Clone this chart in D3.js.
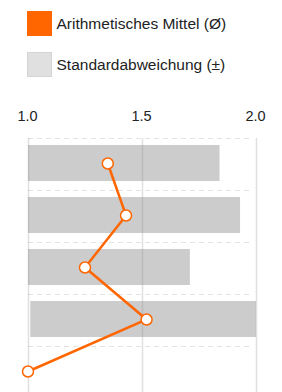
<!DOCTYPE html>
<html>
<head>
<meta charset="utf-8">
<script src="https://cdn.jsdelivr.net/npm/d3@7"></script>
<style>
  body { margin: 0; background: #fff; }
  svg { font-family: "Liberation Sans", Arial, sans-serif; }
</style>
</head>
<body>
<svg id="chart" width="282" height="392"></svg>
<script>
// rows of the survey (mean and standard deviation per item)
const items = ["A", "B", "C", "D", "E"];
const means = [1.35, 1.43, 1.25, 1.52, 1.0];
const stdDevs = [0.49, 0.50, 0.46, 0.51, 0];
const ticks = [1.0, 1.5, 2.0];

const orange = "#ff6600";
const svg = d3.select("#chart");

// legend
const legend = [
    { label: "Arithmetisches Mittel (Ø)", fill: orange, stroke: orange },
    { label: "Standardabweichung (±)", fill: "#e0e0e0", stroke: "#d4d4d4" }
];
const lg = svg.append("g")
    .selectAll("g")
    .data(legend)
    .enter()
    .append("g")
    .attr("transform", (d, i) => `translate(27.5,${11.5 + i * 41})`);
lg.append("rect")
    .attr("width", 24)
    .attr("height", 24)
    .attr("fill", (d) => d.fill)
    .attr("stroke", (d) => d.stroke);
lg.append("text")
    .attr("x", 29)
    .attr("y", 17.3)
    .attr("font-size", 15.5)
    .attr("fill", "#222")
    .text((d) => d.label);

const plotTop = 138;
const rowH = 52;
const x = d3.scaleLinear().domain([1, 2]).range([28, 256]);
const y = d3.scaleBand().domain(items).range([plotTop, plotTop + rowH * items.length]);

// tick labels
svg.append("g")
    .selectAll("text")
    .data(ticks)
    .enter()
    .append("text")
    .attr("x", (d) => x(d) - 0.5)
    .attr("y", 121)
    .attr("text-anchor", "middle")
    .attr("font-size", 14.5)
    .attr("fill", "#222")
    .text((d) => d3.format(".1f")(d));

// horizontal dashed separators
svg.append("g")
    .selectAll("line")
    .data(items)
    .enter()
    .append("line")
    .attr("x1", 28)
    .attr("x2", 252)
    .attr("y1", (d) => y(d) + 0.5)
    .attr("y2", (d) => y(d) + 0.5)
    .attr("stroke", "#e2e2e2")
    .attr("stroke-width", 1.2)
    .attr("stroke-dasharray", "5,4");

// std deviation bars, clipped to the axis domain
const bars = items.map((d, i) => ({
    item: d,
    lo: Math.max(1, means[i] - stdDevs[i]),
    hi: Math.min(2, means[i] + stdDevs[i])
}));
svg.append("g")
    .selectAll("rect")
    .data(bars.filter((d) => d.hi > d.lo))
    .enter()
    .append("rect")
    .attr("x", (d) => x(d.lo))
    .attr("width", (d) => x(d.hi) - x(d.lo))
    .attr("y", (d) => y(d.item) + 7)
    .attr("height", 36)
    .attr("fill", "#cccccc");

// vertical grid lines on top of the bars
svg.append("g")
    .selectAll("line")
    .data(ticks)
    .enter()
    .append("line")
    .attr("x1", (d) => x(d) + 0.5)
    .attr("x2", (d) => x(d) + 0.5)
    .attr("y1", plotTop)
    .attr("y2", 392)
    .attr("stroke", "#999")
    .attr("stroke-opacity", 0.3)
    .attr("stroke-width", 1.5);

// mean line
const pts = items.map((d, i) => [x(means[i]), y(d) + y.bandwidth() / 2 - 0.5]);
svg.append("path")
    .attr("d", d3.line()(pts))
    .attr("fill", "none")
    .attr("stroke", orange)
    .attr("stroke-width", 2.5);
svg.append("g")
    .selectAll("circle")
    .data(pts)
    .enter()
    .append("circle")
    .attr("cx", (d) => d[0])
    .attr("cy", (d) => d[1])
    .attr("r", 5.5)
    .attr("fill", "#fff")
    .attr("stroke", orange)
    .attr("stroke-width", 1.5);
</script>
</body>
</html>
